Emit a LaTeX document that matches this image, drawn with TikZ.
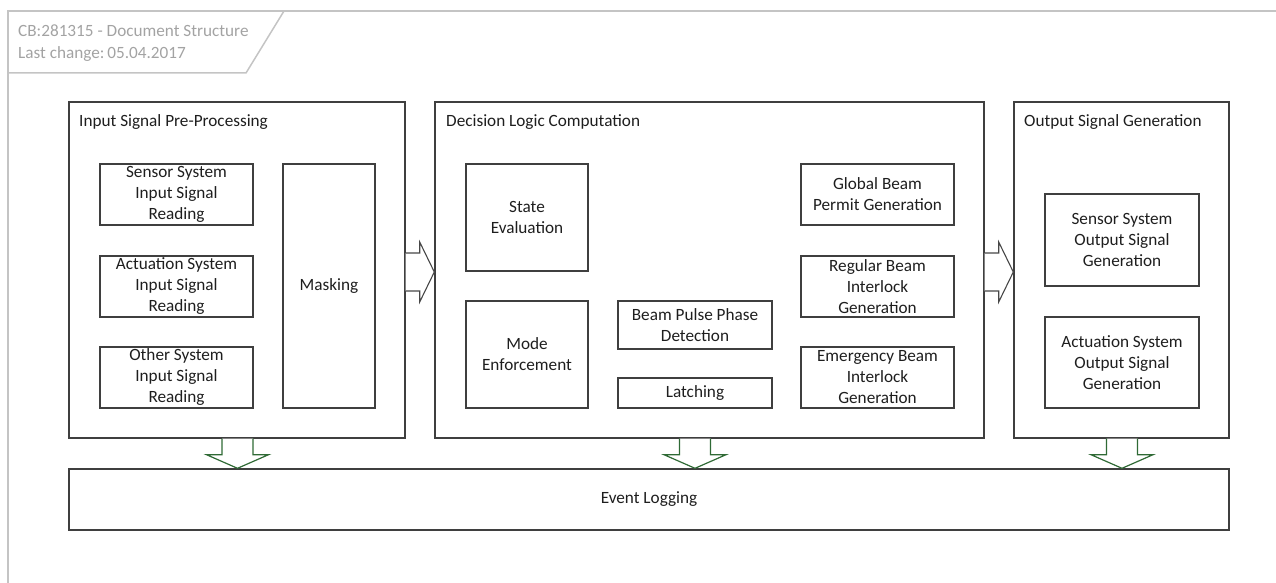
\documentclass[tikz,border=0pt]{standalone}
\usepackage{fontspec}
\setmainfont{Carlito}
\usetikzlibrary{calc}
\definecolor{boxline}{HTML}{3F3F3F}
\definecolor{frameline}{HTML}{C4C4C4}
\definecolor{headtext}{HTML}{A3A3A3}
\definecolor{arrline}{HTML}{474747}
\definecolor{logarr}{HTML}{2F6A35}
\definecolor{txt}{HTML}{1E1E1E}
\tikzset{
  every node/.style={font=\fontsize{17.2}{21}\selectfont, text=txt},
  box/.style={draw=boxline, line width=1.4pt, inner sep=0pt, align=center, rectangle},
  group/.style={box},
  title/.style={anchor=west, inner sep=0pt},
  rarr/.style={draw=arrline, line width=1.1pt, fill=white, line join=miter},
  darr/.style={draw=logarr, line width=1.2pt, fill=white, line join=miter},
  frame/.style={draw=frameline, line width=1.5pt},
}
\begin{document}
\begin{tikzpicture}[x=1pt, y=-1pt]
\useasboundingbox (0,0) rectangle (1276,583);

% page frame and header tab
\draw[frame] (8,583) -- (8,11) -- (1276,11);
\draw[frame] (8,73) -- (246,73) -- (284,11);
\node[anchor=base west, inner sep=0pt, text=headtext] (hd1) at (18,37) {CB:281315 - Document Structure};
\node[anchor=base west, inner sep=0pt, text=headtext] (hd2) at (18,59) {Last change:\,05.04.2017};

% group boxes
\node[group, minimum width=336pt, minimum height=336pt] (inp) at (237,270) {};
\node[group, minimum width=549pt, minimum height=336pt] (dec) at (709.5,270) {};
\node[group, minimum width=215pt, minimum height=336pt] (out) at (1121.5,270) {};
\node[title] (inpT) at (79,122) {Input Signal Pre-Processing};
\node[title] (decT) at (446,122) {Decision Logic Computation};
\node[title] (outT) at (1024,122) {Output Signal Generation};

% input pre-processing
\node[box, minimum width=153pt, minimum height=61pt] (sens) at (176.5,194.5) {Sensor System\\Input Signal\\Reading};
\node[box, minimum width=153pt, minimum height=61pt] (act) at (176.5,286.5) {Actuation System\\Input Signal\\Reading};
\node[box, minimum width=153pt, minimum height=61pt] (oth) at (176.5,377.5) {Other System\\Input Signal\\Reading};
\node[box, minimum width=92pt, minimum height=244pt] (mask) at (329,286) {Masking};

% decision logic
\node[box, minimum width=122pt, minimum height=107pt] (state) at (527,217.5) {State\\Evaluation};
\node[box, minimum width=122pt, minimum height=107pt] (mode) at (527,354.5) {Mode\\Enforcement};
\node[box, minimum width=154pt, minimum height=48pt] (pulse) at (695,325) {Beam Pulse Phase\\Detection};
\node[box, minimum width=154pt, minimum height=30pt] (latch) at (695,393) {Latching};
\node[box, minimum width=153pt, minimum height=61pt] (gbp) at (877.5,194.5) {Global Beam\\Permit Generation};
\node[box, minimum width=153pt, minimum height=61pt] (rbi) at (877.5,286.5) {Regular Beam\\Interlock\\Generation};
\node[box, minimum width=153pt, minimum height=61pt] (ebi) at (877.5,377.5) {Emergency Beam\\Interlock\\Generation};

% output generation
\node[box, minimum width=154pt, minimum height=92pt] (sout) at (1122,240) {Sensor System\\Output Signal\\Generation};
\node[box, minimum width=154pt, minimum height=91pt] (aout) at (1122,362.5) {Actuation System\\Output Signal\\Generation};

% event logging
\node[box, minimum width=1160pt, minimum height=61pt] (log) at (649,499.5) {Event Logging};

% block arrows between stages
\coordinate (r1) at ($(inp.east)+(0,2)$);
\draw[rarr] ($(r1)+(0,-19)$) -- ++(14,0) -- ++(0,-11) -- (r1 -| dec.west) -- ($(r1)+(14,30)$) -- ++(0,-11) -- ($(r1)+(0,19)$);
\coordinate (r2) at ($(dec.east)+(0,2)$);
\draw[rarr] ($(r2)+(0,-19)$) -- ++(14,0) -- ++(0,-11) -- (r2 -| out.west) -- ($(r2)+(14,30)$) -- ++(0,-11) -- ($(r2)+(0,19)$);

% block arrows into event logging
\coordinate (d1) at ($(inp.south)+(0.5,0)$);
\coordinate (d2) at ($(dec.south)+(-14.5,0)$);
\coordinate (d3) at ($(out.south)+(0.5,0)$);
\foreach \d in {d1,d2,d3}{
  \draw[darr] ($(\d)+(-15.5,0)$) -- ++(0,16) -- ++(-15.5,0) -- (\d |- log.north) -- ($(\d)+(31,16)$) -- ++(-15.5,0) -- ($(\d)+(15.5,0)$);
}
\end{tikzpicture}
\end{document}
